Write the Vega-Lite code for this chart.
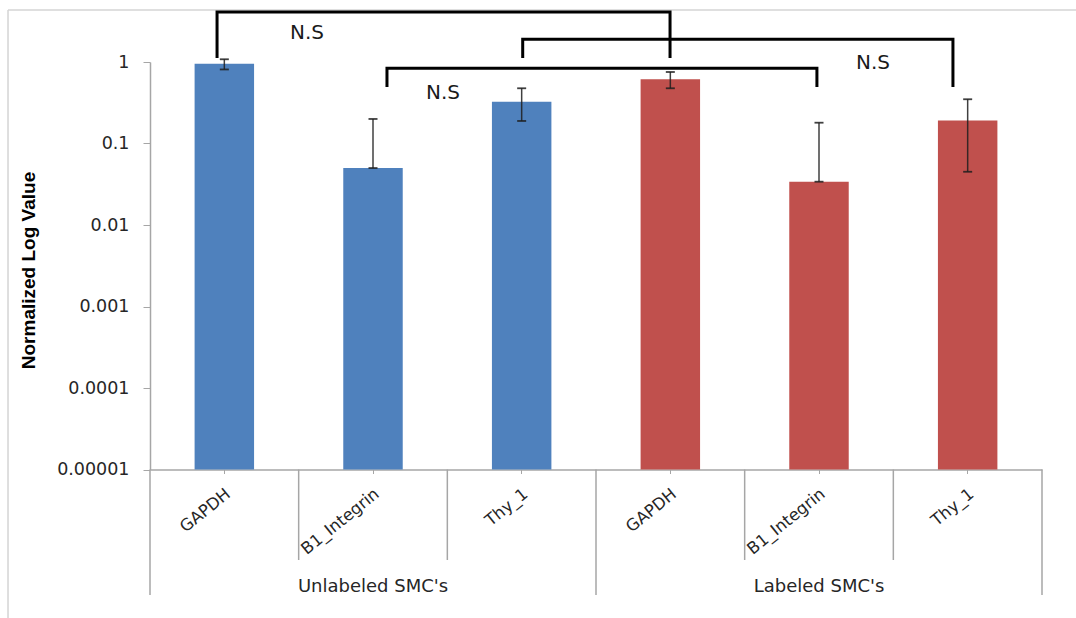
{
  "$schema": "https://vega.github.io/schema/vega-lite/v6.json",
  "width": 892,
  "height": 407.5,
  "autosize": {"type": "none"},
  "padding": {"left": 150, "top": 62, "right": 34, "bottom": 148.5},
  "background": "white",
  "config": {"view": {"stroke": null}, "font": "DejaVu Sans"},
  "datasets": {
    "expression": [
      {"key": "Unlabeled SMC's|GAPDH", "group": "Unlabeled SMC's", "value": 0.95, "lo": 0.81, "hi": 1.08},
      {"key": "Unlabeled SMC's|B1_Integrin", "group": "Unlabeled SMC's", "value": 0.05, "lo": 0.05, "hi": 0.2},
      {"key": "Unlabeled SMC's|Thy_1", "group": "Unlabeled SMC's", "value": 0.326, "lo": 0.189, "hi": 0.476},
      {"key": "Labeled SMC's|GAPDH", "group": "Labeled SMC's", "value": 0.614, "lo": 0.476, "hi": 0.754},
      {"key": "Labeled SMC's|B1_Integrin", "group": "Labeled SMC's", "value": 0.034, "lo": 0.034, "hi": 0.18},
      {"key": "Labeled SMC's|Thy_1", "group": "Labeled SMC's", "value": 0.191, "lo": 0.045, "hi": 0.349}
    ],
    "guides": [
      {"part": "frame", "x": -0.955, "x2": 6.229, "y": 4.35, "y2": 4.35},
      {"part": "frame", "x": -0.955, "x2": -0.955, "y": 4.35, "y2": 1.5e-7},
      {"part": "divider", "x": 0, "x2": 0, "y": 0.00001, "y2": 2.89e-7},
      {"part": "divider", "x": 1, "x2": 1, "y": 0.00001, "y2": 7.76e-7},
      {"part": "divider", "x": 2, "x2": 2, "y": 0.00001, "y2": 7.76e-7},
      {"part": "divider", "x": 3, "x2": 3, "y": 0.00001, "y2": 2.89e-7},
      {"part": "divider", "x": 4, "x2": 4, "y": 0.00001, "y2": 7.76e-7},
      {"part": "divider", "x": 5, "x2": 5, "y": 0.00001, "y2": 7.76e-7},
      {"part": "divider", "x": 6, "x2": 6, "y": 0.00001, "y2": 2.89e-7}
    ],
    "groups": [
      {"pos": 1.5, "level": 3.61e-7, "label": "Unlabeled SMC's"},
      {"pos": 4.5, "level": 3.61e-7, "label": "Labeled SMC's"}
    ],
    "brackets": [
      {"bracket": "A", "step": 1, "pos": 0.451, "level": 1.12},
      {"bracket": "A", "step": 2, "pos": 0.451, "level": 4.11},
      {"bracket": "A", "step": 3, "pos": 3.498, "level": 4.11},
      {"bracket": "A", "step": 4, "pos": 3.498, "level": 1.12},
      {"bracket": "B", "step": 1, "pos": 2.507, "level": 1.12},
      {"bracket": "B", "step": 2, "pos": 2.507, "level": 1.9},
      {"bracket": "B", "step": 3, "pos": 5.401, "level": 1.9},
      {"bracket": "B", "step": 4, "pos": 5.401, "level": 0.493},
      {"bracket": "C", "step": 1, "pos": 1.594, "level": 0.493},
      {"bracket": "C", "step": 2, "pos": 1.594, "level": 0.837},
      {"bracket": "C", "step": 3, "pos": 4.486, "level": 0.837},
      {"bracket": "C", "step": 4, "pos": 4.486, "level": 0.493}
    ],
    "notes": [
      {"pos": 1.056, "level": 2.27, "label": "N.S"},
      {"pos": 4.863, "level": 0.97, "label": "N.S"},
      {"pos": 1.971, "level": 0.417, "label": "N.S"}
    ]
  },
  "layer": [
    {
      "data": {"name": "expression"},
      "encoding": {
        "x": {
          "field": "key",
          "type": "nominal",
          "sort": null,
          "scale": {"paddingInner": 0, "paddingOuter": 0},
          "axis": {
            "title": null,
            "labelExpr": "split(datum.value, '|')[1]",
            "labelAngle": -39,
            "labelAlign": "right",
            "labelBaseline": "middle",
            "labelFont": "DejaVu Sans",
            "labelFontSize": 16.5,
            "labelColor": "#262626",
            "labelPadding": 18,
            "labelOffset": 4,
            "tickSize": 4,
            "tickColor": "#a6a6a6",
            "domainColor": "#a6a6a6",
            "domainWidth": 1.5
          }
        }
      },
      "layer": [
        {
          "mark": {"type": "bar", "width": {"band": 0.4}},
          "encoding": {
            "y": {
              "field": "value",
              "type": "quantitative",
              "scale": {"type": "log", "domain": [0.00001, 1]},
              "axis": {
                "title": "Normalized Log Value",
                "titleFont": "Liberation Sans",
                "titleFontSize": 19,
                "titleFontWeight": "bold",
                "titleColor": "#000000",
                "titleX": -122,
                "titleY": 208,
                "titleAngle": -90,
                "titleAlign": "center",
                "titleBaseline": "middle",
                "values": [0.00001, 0.0001, 0.001, 0.01, 0.1, 1],
                "format": ".5~f",
                "labelFont": "DejaVu Sans",
                "labelFontSize": 17.5,
                "labelColor": "#262626",
                "labelPadding": 14,
                "tickSize": 7,
                "tickColor": "#a6a6a6",
                "domainColor": "#a6a6a6",
                "domainWidth": 1.5,
                "grid": false
              }
            },
            "y2": {"datum": 0.00001},
            "color": {
              "field": "group",
              "type": "nominal",
              "scale": {"domain": ["Unlabeled SMC's", "Labeled SMC's"], "range": ["#4F81BD", "#C0504D"]},
              "legend": null
            }
          }
        },
        {
          "mark": {"type": "rule", "color": "#1f1f1f", "strokeWidth": 1.5, "opacity": 0.85},
          "encoding": {
            "y": {"field": "lo", "type": "quantitative", "scale": {"type": "log", "domain": [0.00001, 1]}},
            "y2": {"field": "hi"}
          }
        },
        {
          "transform": [{"fold": ["lo", "hi"], "as": ["end", "bound"]}],
          "mark": {"type": "tick", "orient": "horizontal", "size": 9, "thickness": 1.8, "color": "#1f1f1f", "opacity": 0.85},
          "encoding": {
            "y": {"field": "bound", "type": "quantitative", "scale": {"type": "log", "domain": [0.00001, 1]}}
          }
        }
      ]
    },
    {
      "layer": [
        {
          "data": {"name": "guides"},
          "mark": {"type": "rule", "strokeWidth": 1.5, "clip": false},
          "encoding": {
            "x": {"field": "x", "type": "quantitative", "scale": {"domain": [0, 6], "nice": false, "zero": false}, "axis": null},
            "x2": {"field": "x2"},
            "y": {"field": "y", "type": "quantitative", "scale": {"type": "log", "domain": [0.00001, 1]}},
            "y2": {"field": "y2"},
            "color": {"field": "part", "type": "nominal", "scale": {"domain": ["frame", "divider"], "range": ["#d4d4d4", "#a6a6a6"]}, "legend": null}
          }
        },
        {
          "data": {"name": "groups"},
          "mark": {"type": "text", "font": "DejaVu Sans", "fontSize": 18, "color": "#262626", "baseline": "middle", "clip": false},
          "encoding": {
            "x": {"field": "pos", "type": "quantitative", "scale": {"domain": [0, 6], "nice": false, "zero": false}, "axis": null},
            "y": {"field": "level", "type": "quantitative", "scale": {"type": "log", "domain": [0.00001, 1]}},
            "text": {"field": "label"}
          }
        },
        {
          "data": {"name": "brackets"},
          "mark": {"type": "line", "color": "#000000", "strokeWidth": 3, "strokeJoin": "miter", "strokeCap": "butt", "clip": false},
          "encoding": {
            "x": {"field": "pos", "type": "quantitative", "scale": {"domain": [0, 6], "nice": false, "zero": false}, "axis": null},
            "y": {"field": "level", "type": "quantitative", "scale": {"type": "log", "domain": [0.00001, 1]}},
            "detail": {"field": "bracket"},
            "order": {"field": "step"}
          }
        },
        {
          "data": {"name": "notes"},
          "mark": {"type": "text", "font": "DejaVu Sans", "fontSize": 20, "color": "#1a1a1a", "baseline": "middle", "clip": false},
          "encoding": {
            "x": {"field": "pos", "type": "quantitative", "scale": {"domain": [0, 6], "nice": false, "zero": false}, "axis": null},
            "y": {"field": "level", "type": "quantitative", "scale": {"type": "log", "domain": [0.00001, 1]}},
            "text": {"field": "label"}
          }
        }
      ]
    }
  ],
  "resolve": {"scale": {"x": "independent", "color": "independent"}, "axis": {"x": "independent"}}
}
